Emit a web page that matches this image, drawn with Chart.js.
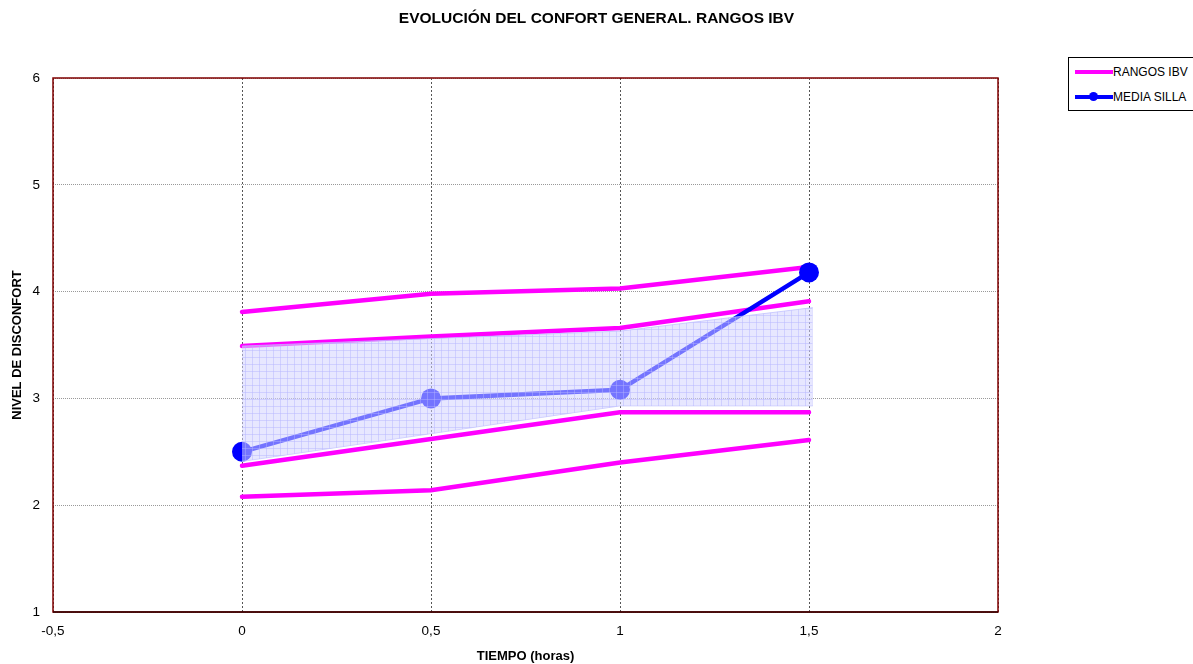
<!DOCTYPE html>
<html>
<head>
<meta charset="utf-8">
<script src="https://cdn.jsdelivr.net/npm/chart.js@4.4.1/dist/chart.umd.min.js"></script>
<style>
  body { margin: 0; background: #fff; font-family: "Liberation Sans", Arial, sans-serif; }
  #wrap { position: relative; width: 1193px; height: 664px; }
  #legend {
    position: absolute; left: 1068px; top: 57px; width: 132px; height: 52px;
    border: 1px solid #000; background: #fff; font-size: 12px; color: #000;
  }
  .row { position: absolute; left: 6px; height: 14px; line-height: 14px; white-space: nowrap; }
  .swatch { position: absolute; left: 0; top: 5px; width: 38px; height: 4px; }
  .dot { position: absolute; left: 14px; top: 2px; width: 9px; height: 9px; border-radius: 50%; background: #0000ff; }
  .label { position: absolute; left: 38px; top: 0; }
</style>
</head>
<body>
<div id="wrap">
  <canvas id="chart" width="1193" height="664"></canvas>
  <div id="legend">
    <div class="row" style="top:7px"><span class="swatch" style="background:#ff00ff"></span><span class="label">RANGOS IBV</span></div>
    <div class="row" style="top:32px"><span class="swatch" style="background:#0000ff"></span><span class="dot"></span><span class="label">MEDIA SILLA</span></div>
  </div>
</div>
<script>
// tiempo (horas)
const tiempo = [0, 0.5, 1, 1.5];
// rangos IBV (limites)
const rangoSupExt = [3.81, 3.98, 4.03, 4.23];
const rangoSupInt = [3.49, 3.58, 3.66, 3.91];
const rangoInfInt = [2.37, 2.62, 2.87, 2.87];
const rangoInfExt = [2.08, 2.14, 2.40, 2.61];
// media silla
const mediaSilla = [2.50, 3.00, 3.08, 4.18];
// banda sombreada
const bandaX = [0, 0.5, 1, 1.51];
const bandaSup = [3.49, 3.56, 3.63, 3.85];
const bandaInf = [2.41, 2.67, 2.93, 2.93];
// ticks
const xTicks = [-0.5, 0, 0.5, 1, 1.5, 2];
const yTicks = [1, 2, 3, 4, 5, 6];

function pts(xs, ys) {
  return xs.map((x, i) => ({ x: x, y: ys[i] }));
}

// grid pattern for the shaded band
function bandPattern() {
  const c = document.createElement('canvas');
  c.width = 7; c.height = 7;
  const g = c.getContext('2d');
  g.fillStyle = 'rgba(212,212,255,0.55)';
  g.fillRect(0, 0, 7, 7);
  g.fillStyle = 'rgba(180,180,255,0.45)';
  g.fillRect(0, 0, 7, 1);
  g.fillRect(0, 0, 1, 7);
  return g.createPattern(c, 'repeat');
}

const magenta = '#ff00ff';
function rango(label, ys) {
  return {
    label: label, data: pts(tiempo, ys), borderColor: magenta, backgroundColor: magenta,
    borderWidth: 4.5, pointRadius: 0, borderCapStyle: 'round', fill: false, tension: 0
  };
}

const plotBox = {
  id: 'plotBox',
  afterDraw(chart) {
    const a = chart.chartArea, ctx = chart.ctx;
    ctx.save();
    ctx.strokeStyle = '#800000';
    ctx.lineWidth = 1.5;
    ctx.strokeRect(a.left, a.top, a.right - a.left, a.bottom - a.top);
    ctx.strokeStyle = '#300000';
    ctx.beginPath();
    ctx.moveTo(a.left, a.bottom); ctx.lineTo(a.right, a.bottom);
    ctx.stroke();
    ctx.restore();
  }
};

const font = { family: '"Liberation Sans", Arial, sans-serif' };

new Chart(document.getElementById('chart'), {
  type: 'line',
  data: {
    datasets: [
      { label: 'banda', data: pts(bandaX, bandaSup), borderColor: 'rgba(190,190,255,0.7)', borderWidth: 1,
        pointRadius: 0, fill: '+1', backgroundColor: bandPattern() },
      { label: 'banda inf', data: pts(bandaX, bandaInf), borderColor: 'rgba(190,190,255,0.7)', borderWidth: 1,
        pointRadius: 0, fill: false },
      { label: 'MEDIA SILLA', data: pts(tiempo, mediaSilla), borderColor: '#0000ff', backgroundColor: '#0000ff',
        borderWidth: 4.5, pointRadius: 10, pointBorderWidth: 0, fill: false },
      rango('RANGOS IBV', rangoSupExt),
      rango('sup int', rangoSupInt),
      rango('inf int', rangoInfInt),
      rango('inf ext', rangoInfExt)
    ]
  },
  options: {
    responsive: false,
    animation: false,
    events: [],
    layout: { padding: 0 },
    plugins: {
      legend: { display: false },
      tooltip: { enabled: false },
      title: {
        display: true,
        text: 'EVOLUCIÓN DEL CONFORT GENERAL. RANGOS IBV',
        color: '#000',
        font: Object.assign({ size: 15.5, weight: 'bold', lineHeight: 1.2 }, font),
        padding: { top: 9, bottom: 50.4 }
      }
    },
    scales: {
      x: {
        type: 'linear', min: -0.5, max: 2,
        afterBuildTicks(s) { s.ticks = xTicks.map(v => ({ value: v })); },
        afterFit(s) { s.height = 52; },
        ticks: {
          color: '#000', padding: 11, maxRotation: 0,
          font: Object.assign({ size: 13.5 }, font),
          callback: v => String(v).replace('.', ',')
        },
        grid: { color: '#555', lineWidth: 1, drawTicks: false },
        border: { display: false, dash: [2, 2] },
        title: {
          display: true, text: 'TIEMPO (horas)', color: '#000',
          font: Object.assign({ size: 13, weight: 'bold', lineHeight: 1.2 }, font),
          padding: 0
        }
      },
      y: {
        type: 'linear', min: 1, max: 6,
        afterBuildTicks(s) { s.ticks = yTicks.map(v => ({ value: v })); },
        afterFit(s) { s.width = 53; },
        ticks: { color: '#000', padding: 13, font: Object.assign({ size: 13.5 }, font) },
        grid: { color: '#999', lineWidth: 1, drawTicks: false },
        border: { display: false, dash: [1, 1] },
        title: {
          display: true, text: 'NIVEL DE DISCONFORT', color: '#000',
          font: Object.assign({ size: 13, weight: 'bold', lineHeight: 1.2 }, font),
          padding: { top: 10, bottom: 0 }
        }
      },
      y2: {
        type: 'linear', position: 'right', min: 1, max: 6,
        afterFit(s) { s.width = 195; },
        ticks: { display: false },
        grid: { display: false, drawTicks: false },
        border: { display: false }
      }
    }
  },
  plugins: [plotBox]
});
</script>
</body>
</html>
